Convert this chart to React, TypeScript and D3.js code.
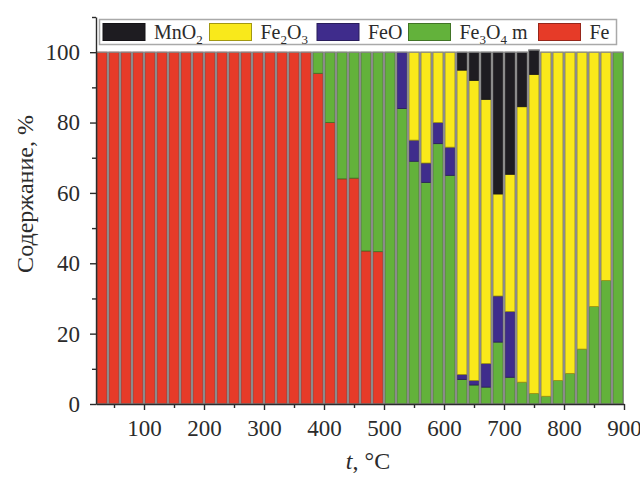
import React from "react";
import * as d3 from "d3";

// temperature at the left edge of every bar (each bar spans 20 °C)
const temps = [
  20, 40, 60, 80, 100, 120, 140, 160, 180, 200, 220, 240, 260, 280, 300, 320, 340, 360, 380, 400,
  420, 440, 460, 480, 500, 520, 540, 560, 580, 600, 620, 640, 660, 680, 700, 720, 740, 760, 780, 800,
  820, 840, 860, 880,
];

const fe = [
  100, 100, 100, 100, 100, 100, 100, 100, 100, 100, 100, 100, 100, 100, 100, 100, 100, 100, 94, 80,
  64, 64.2, 43.5, 43.3, 0, 0, 0, 0, 0, 0, 0, 0, 0, 0, 0, 0, 0, 0, 0, 0,
  0, 0, 0, 0,
];
const fe3o4 = [
  0, 0, 0, 0, 0, 0, 0, 0, 0, 0, 0, 0, 0, 0, 0, 0, 0, 0, 6, 20,
  36, 35.8, 56.5, 56.7, 100, 84, 69, 63, 74, 65, 7, 5.4, 4.8, 17.6, 7.6, 6.2, 3, 2.2, 6.7, 8.7,
  15.6, 27.7, 35.1, 100,
];
const feo = [
  0, 0, 0, 0, 0, 0, 0, 0, 0, 0, 0, 0, 0, 0, 0, 0, 0, 0, 0, 0,
  0, 0, 0, 0, 0, 16, 6, 5.5, 6, 8, 1.4, 1.3, 6.7, 13.1, 18.7, 0, 0, 0, 0, 0,
  0, 0, 0, 0,
];
const fe2o3 = [
  0, 0, 0, 0, 0, 0, 0, 0, 0, 0, 0, 0, 0, 0, 0, 0, 0, 0, 0, 0,
  0, 0, 0, 0, 0, 0, 25, 31.5, 20, 27, 86.5, 85.3, 75.1, 29, 39, 78.3, 90.7, 97.8, 93.3, 91.3,
  84.4, 72.3, 64.9, 0,
];
const mno2 = [
  0, 0, 0, 0, 0, 0, 0, 0, 0, 0, 0, 0, 0, 0, 0, 0, 0, 0, 0, 0,
  0, 0, 0, 0, 0, 0, 0, 0, 0, 0, 5.1, 8, 13.4, 40.3, 34.7, 15.5, 6.9, 0, 0, 0,
  0, 0, 0, 0,
];

// stacking order, bottom to top
const seriesKeys = ["Fe", "Fe3O4", "FeO", "Fe2O3", "MnO2"];
const seriesValues = [fe, fe3o4, feo, fe2o3, mno2];
const colors = {
  Fe: "#e63b28",
  Fe3O4: "#63b23b",
  FeO: "#3f2c8c",
  Fe2O3: "#f9e91b",
  MnO2: "#1e1c21",
};

// legend order (left to right) with label pieces: [text, isSubscript]
const legendKeys = ["MnO2", "Fe2O3", "FeO", "Fe3O4", "Fe"];
const legendLabels = [
  [["MnO", false], ["2", true]],
  [["Fe", false], ["2", true], ["O", false], ["3", true]],
  [["FeO", false]],
  [["Fe", false], ["3", true], ["O", false], ["4", true], [" m", false]],
  [["Fe", false]],
];

const xTicks = [100, 200, 300, 400, 500, 600, 700, 800, 900];
const xMinor = [50, 150, 250, 350, 450, 550, 650, 750, 850];
const yTicks = [0, 20, 40, 60, 80, 100];
const yMinor = [10, 30, 50, 70, 90, 110];

const BarChart = () => {
  const ref = React.useRef(null);

  React.useEffect(() => {
    const width = 640;
    const height = 478;
    const margin = { left: 96, right: 16, top: 17, bottom: 74 };
    const font = "'Liberation Serif', 'Times New Roman', serif";
    const ink = "#2b2b2b";

    const svg = d3.select(ref.current);
    svg.selectAll("*").remove();

    const x = d3.scaleLinear().domain([20, 900]).range([margin.left, width - margin.right]);
    const y = d3.scaleLinear().domain([0, 110]).range([height - margin.bottom, margin.top]);

    const rows = temps.map((t, i) => {
      const r = { t };
      seriesKeys.forEach((k, j) => (r[k] = seriesValues[j][i]));
      return r;
    });
    const stacked = d3.stack().keys(seriesKeys)(rows);

    // bars
    const layer = svg.append("g");
    layer
      .selectAll("g")
      .data(stacked)
      .join("g")
      .attr("fill", (s) => colors[s.key])
      .attr("stroke", (s) => d3.color(colors[s.key]).darker(1.3).formatHex())
      .attr("stroke-width", 0.8)
      .selectAll("rect")
      .data((s) => s.filter((d) => d[1] - d[0] > 0))
      .join("rect")
      .attr("x", (d) => x(d.data.t) + 1)
      .attr("width", (d) => x(d.data.t + 20) - x(d.data.t) - 2)
      .attr("y", (d) => y(d[1]))
      .attr("height", (d) => y(d[0]) - y(d[1]));

    // gray outline of each bar
    svg
      .append("g")
      .selectAll("rect")
      .data(rows)
      .join("rect")
      .attr("x", (d) => x(d.t) + 0.6)
      .attr("width", (d) => x(d.t + 20) - x(d.t) - 1.2)
      .attr("y", (d) => y(d3.sum(seriesKeys, (k) => d[k])))
      .attr("height", (d) => y(0) - y(d3.sum(seriesKeys, (k) => d[k])))
      .attr("fill", "none")
      .attr("stroke", "#8b8b8b")
      .attr("stroke-width", 1.2);

    const styleAxis = (g) => {
      g.select(".domain").attr("stroke", ink).attr("stroke-width", 1.4);
      g.selectAll(".tick line").attr("stroke", ink).attr("stroke-width", 1.4);
      g.selectAll(".tick text")
        .attr("font-family", font)
        .attr("font-size", 23)
        .attr("fill", ink);
    };

    // x axis
    svg
      .append("g")
      .attr("transform", `translate(0,${y(0)})`)
      .call(d3.axisBottom(x).tickValues(xTicks).tickSize(6).tickSizeOuter(0).tickPadding(10))
      .call(styleAxis);
    svg
      .append("g")
      .attr("transform", `translate(0,${y(0)})`)
      .call(d3.axisBottom(x).tickValues(xMinor).tickSize(4).tickFormat(() => ""))
      .call(styleAxis)
      .call((g) => g.select(".domain").remove());

    // y axis
    svg
      .append("g")
      .attr("transform", `translate(${margin.left},0)`)
      .call(d3.axisLeft(y).tickValues(yTicks).tickSize(6).tickSizeOuter(0).tickPadding(10))
      .call(styleAxis);
    svg
      .append("g")
      .attr("transform", `translate(${margin.left},0)`)
      .call(d3.axisLeft(y).tickValues(yMinor).tickSize(4).tickFormat(() => ""))
      .call(styleAxis)
      .call((g) => g.select(".domain").remove());

    // axis titles
    svg
      .append("text")
      .attr("transform", `translate(33,194) rotate(-90)`)
      .attr("text-anchor", "middle")
      .attr("font-family", font)
      .attr("font-size", 24)
      .attr("fill", ink)
      .text("Содержание, %");

    const xt = svg
      .append("text")
      .attr("x", 368)
      .attr("y", 469)
      .attr("text-anchor", "middle")
      .attr("font-family", font)
      .attr("font-size", 24)
      .attr("fill", ink);
    xt.append("tspan").attr("font-style", "italic").text("t");
    xt.append("tspan").text(", °C");

    // legend
    const legend = svg.append("g");
    legend
      .append("rect")
      .attr("x", 99.5)
      .attr("y", 19.5)
      .attr("width", 517)
      .attr("height", 25)
      .attr("fill", "white")
      .attr("stroke", "#a9a9a9")
      .attr("stroke-width", 1.5);

    const swatchX = [103, 209.5, 317, 408.5, 538.5];
    legendKeys.forEach((k, i) => {
      legend
        .append("rect")
        .attr("x", swatchX[i])
        .attr("y", 23.5)
        .attr("width", 42)
        .attr("height", 17)
        .attr("fill", colors[k])
        .attr("stroke", d3.color(colors[k]).darker(1.2).formatHex())
        .attr("stroke-width", 1);
      const txt = legend
        .append("text")
        .attr("x", swatchX[i] + 51)
        .attr("y", 39)
        .attr("font-family", font)
        .attr("font-size", 20)
        .attr("fill", ink);
      let sub = false;
      legendLabels[i].forEach(([s, isSub]) => {
        const sp = txt.append("tspan").text(s);
        if (isSub && !sub) sp.attr("dy", 5).attr("font-size", 13);
        else if (isSub) sp.attr("font-size", 13);
        else if (sub) sp.attr("dy", -5);
        sub = isSub;
      });
    });
  }, []);

  return (
    <svg
      ref={ref}
      width={640}
      height={478}
      style={{ position: "absolute", left: 0, top: 0, background: "white" }}
    />
  );
};

export default function App() {
  return <BarChart />;
}
